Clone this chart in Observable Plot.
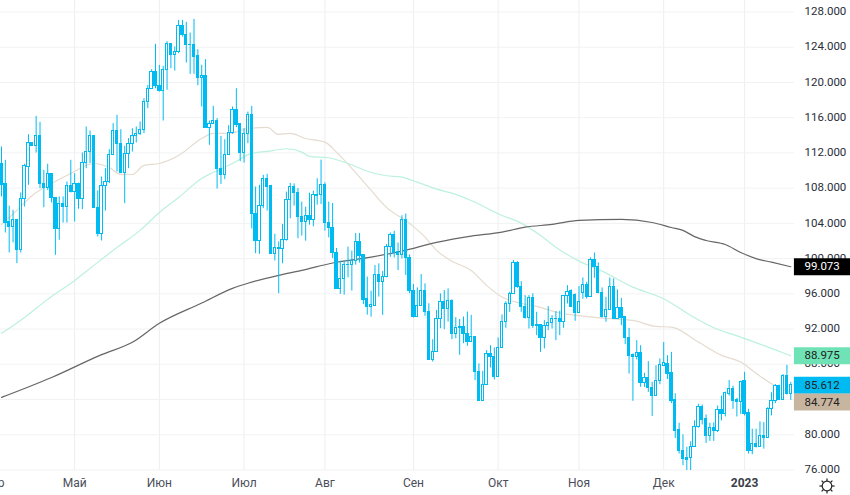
<!DOCTYPE html>
<html>
<head>
<meta charset="utf-8">
<script src="https://cdn.jsdelivr.net/npm/d3@7"></script>
<script src="https://cdn.jsdelivr.net/npm/@observablehq/plot@0.6"></script>
<style>
html,body{margin:0;padding:0;background:#fff;overflow:hidden}
#chart{position:relative;width:850px;height:495px}
#chart svg{display:block}
#chart svg#sun{position:absolute;left:818px;top:477px}
</style>
</head>
<body>
<div id="chart"></div>
<script>
const opens=[110.71,108.43,104.12,103.59,104.42,101.02,106.77,110.4,113.16,112.78,113.88,108.51,108.02,109.57,106.92,103.36,106.16,105.86,108.28,107.56,108.51,106.77,110.89,112.14,113.96,105.78,102.83,108.21,108.66,111.8,114.52,113.05,109.72,111.91,113.01,113.88,114.18,114.64,117.82,119.29,121.22,119.64,119.03,121.45,124.4,123.11,123.49,126.44,125.42,124.29,124.29,122.97,120.54,120.77,114.83,115.28,115.66,110.17,109.49,111.8,114.3,116.91,115.25,111.99,114.18,116.34,105.1,102.0,106.01,109.08,108.21,100.56,101.24,
101.09,102.06,106.6,108.11,107.47,104.75,104.18,104.78,104.41,107.17,107.17,108.3,104.06,103.5,100.66,96.57,97.63,99.22,99.22,99.71,101.83,100.4,95.36,
94.53,94.66,98.15,97.32,97.89,101.28,102.68,100.79,100.45,104.38,100.07,96.34,93.36,94.64,96.34,93.96,88.45,89.44,93.17,95.1,94.26,95.24,91.43,92.26,92.26,91.47,90.56,
91.13,87.12,83.79,85.64,89.17,88.79,86.52,89.85,92.8,94.85,95.99,99.55,96.82,94.55,93.22,95.53,92.39,92.46,90.95,92.35,92.69,93.14,93.14,92.77,95.8,96.36,
95.83,93.86,96.06,97.05,95.61,99.85,99.09,96.1,93.33,94.17,96.82,93.18,94.39,93.33,90.99,89.09,88.79,89.28,85.91,86.44,85.3,84.36,86.06,
87.81,88.08,86.99,83.9,80.56,78.19,77.4,77.36,78.56,80.85,83.15,81.76,79.81,80.74,80.44,82.77,82.4,84.65,85.14,83.9,83.75,86.08,82.47,78.11,78.94,78.56,79.84,79.65,82.96,83.86,85.48,83.98,86.64,84.65];
const closes=[108.32,104.05,103.59,104.42,100.94,106.81,110.48,113.16,112.78,113.88,108.51,108.02,109.57,106.88,103.36,106.16,105.86,108.28,107.56,108.51,106.77,110.89,112.14,113.96,105.78,102.83,108.21,108.66,111.8,114.52,113.01,109.72,111.91,113.01,113.88,114.18,114.64,117.82,119.29,121.22,119.6,119.03,121.45,124.4,123.11,123.49,126.44,125.42,124.25,124.22,122.89,120.54,120.77,114.83,115.28,115.62,110.17,109.49,111.8,114.3,116.91,115.13,111.99,114.18,116.34,105.1,102.0,106.01,109.08,108.13,100.49,101.24,101.09,
102.06,106.6,108.11,107.47,104.75,104.18,104.78,104.41,107.17,107.09,108.3,104.06,103.5,100.66,96.57,97.63,99.22,99.25,99.71,101.83,100.28,95.29,94.53,
94.68,98.15,97.32,97.89,101.28,102.68,100.64,100.45,104.38,100.04,96.3,93.36,94.64,96.34,93.93,88.45,89.44,93.17,95.1,94.26,95.17,91.43,92.15,92.07,91.43,90.56,91.13,
87.08,83.79,85.64,89.17,88.79,86.52,89.85,92.8,94.85,95.99,99.51,96.74,94.47,93.22,95.53,92.39,92.47,90.95,92.35,92.69,93.14,93.17,92.77,95.8,96.21,94.55,
93.86,95.04,97.01,95.61,99.85,99.02,96.06,93.33,94.17,96.82,93.18,94.39,93.22,90.95,88.98,88.79,89.28,85.91,86.44,85.27,84.36,86.06,87.92,
88.11,86.91,83.82,80.48,78.11,77.21,77.17,78.56,80.85,83.15,81.72,79.81,80.74,80.44,82.77,82.4,84.73,85.14,83.83,83.71,86.0,82.4,78.11,78.94,78.56,79.84,79.65,82.96,83.86,85.48,83.9,86.64,84.65,85.612];
const highs=[112.67,111.16,105.94,105.48,104.42,107.45,110.71,114.07,113.16,116.15,115.47,110.02,110.71,109.64,106.92,107.0,107.0,108.7,111.16,109.64,108.58,111.99,114.94,114.49,113.96,107.68,109.26,110.21,112.37,115.32,116.27,114.64,112.75,113.62,114.75,114.94,115.51,118.16,119.67,121.45,124.33,121.94,121.83,124.63,124.4,124.02,127.05,127.05,126.82,125.61,127.16,123.72,121.94,122.58,115.62,117.29,115.89,113.88,113.5,115.09,117.21,119.29,115.25,114.75,116.64,117.29,108.13,108.32,109.45,109.57,108.32,102.76,101.89,
103.88,107.55,108.53,108.49,107.96,106.41,105.84,107.43,107.66,109.06,111.18,108.61,106.41,106.26,101.15,99.71,99.71,101.3,100.85,102.85,102.85,100.4,97.9,
96.3,99.21,99.4,98.53,101.59,102.91,103.1,101.77,104.87,105.06,100.42,97.06,96.68,98.19,97.13,94.87,90.79,94.12,96.0,96.38,96.56,95.32,93.29,93.09,93.36,93.93,93.55,
91.13,88.03,87.2,89.55,90.11,89.85,90.99,93.6,95.11,96.17,99.77,99.66,97.39,95.8,95.8,95.99,93.9,92.5,92.96,94.55,93.52,93.98,94.02,95.8,96.93,96.44,
95.99,96.82,97.8,97.31,100.08,100.64,99.51,96.67,95.61,97.8,97.69,96.44,95.49,93.33,92.08,89.17,90.68,90.11,86.97,88.3,85.95,87.84,88.6,
90.48,88.98,89.35,84.65,81.31,79.99,78.56,79.2,81.57,83.45,83.37,82.25,81.31,81.34,83.26,84.39,84.84,86.15,85.52,84.13,86.08,87.09,82.89,80.63,80.63,81.46,81.38,83.07,84.77,85.7,85.63,86.83,87.88,85.93];
const lows=[107.0,102.91,100.64,101.78,99.43,100.64,105.86,108.32,112.78,111.99,107.94,105.78,107.75,106.31,100.37,102.08,104.04,104.04,107.45,104.16,105.6,105.56,110.21,110.78,105.78,102.45,102.0,105.4,108.51,111.72,109.83,109.64,106.24,110.21,112.1,113.12,113.99,114.18,117.02,119.29,119.29,118.91,115.62,119.11,121.56,121.3,123.27,125.16,122.21,120.92,120.92,119.63,117.21,114.79,112.86,115.25,107.9,108.43,108.96,111.72,114.11,114.87,111.01,110.85,113.05,103.36,100.56,100.49,105.67,105.4,100.49,99.73,96.02,
99.41,101.98,104.52,105.96,102.25,102.55,101.98,103.8,103.61,106.07,106.15,103.12,102.36,100.02,96.57,95.93,95.85,97.82,96.31,99.26,99.49,94.79,93.58,
93.36,94.6,95.63,93.55,97.81,100.15,100.07,98.64,99.96,98.08,96.0,93.25,93.36,94.64,93.44,88.45,88.26,89.4,92.04,91.93,92.79,90.79,90.91,89.02,90.34,90.04,90.53,
86.14,83.79,83.79,85.57,87.58,86.21,86.52,89.85,92.08,93.9,96.0,96.63,93.9,93.14,92.01,92.08,91.25,89.36,89.74,91.82,92.01,90.68,91.25,92.08,94.85,94.47,
92.88,93.83,95.38,95.42,95.61,97.77,95.99,93.26,92.77,94.17,93.14,93.14,92.39,90.23,86.89,83.79,88.49,85.38,85.38,84.81,82.08,84.36,85.68,
87.77,86.27,83.53,79.58,77.81,76.49,75.85,75.93,78.56,80.74,81.12,79.01,79.24,79.24,80.25,81.57,82.02,84.39,82.89,82.02,82.32,82.13,77.81,77.73,78.49,78.56,78.37,79.58,82.14,83.53,83.9,83.9,84.5,83.9];

const darkIdx=[0,13,26,34,41,52,60,64,72,78,86,96,104,113,122,130,136,143,150,161,169,174,177,180,183,188,192,196,200,205];
const darkVal=[84.24,86.5,89.1,90.5,92.65,94.95,96.62,97.2,98.1,98.66,99.5,100.17,100.85,101.84,102.55,103.0,103.57,103.88,104.33,104.45,104.1,103.53,103.2,102.5,102.06,101.6,100.7,100.0,99.6,99.073];
const greenIdx=[0,6,12,19,24,30,36,41,46,52,55,60,65,69,74,78,80,85,90,96,100,104,108,113,117,122,130,135,140,144,150,156,164,172,179,185,192,200,205];
const greenVal=[91.51,93.32,95.37,97.52,99.23,101.27,103.2,105.24,106.94,109.1,109.78,110.8,111.94,112.17,112.47,112.09,111.6,111.45,110.8,109.78,109.41,109.25,108.68,107.89,107.43,106.6,104.9,104.03,102.63,101.3,99.71,98.58,96.76,95.45,93.55,92.15,91.09,89.8,88.975];
const tanIdx=[0,4,8,13,18,24,28,31,34,37,41,46,52,55,59,64,69,72,75,79,84,87,91,96,100,106,110,113,117,122,126,130,135,140,144,151,157,164,170,174,181,187,192,196,200,205];
const tanVal=[103.88,105.47,107.17,108.53,109.67,110.8,110.35,109.55,109.55,110.58,110.8,111.71,113.64,114.21,114.21,114.78,114.89,114.1,114.21,113.64,113.22,112.09,110.24,107.74,105.81,104.0,102.44,100.93,99.71,98.66,96.96,95.63,94.91,94.46,93.92,93.47,93.21,92.98,92.3,92.22,90.52,89.01,88.25,86.97,85.8,84.774];

const yTicks=[76,80,84,88,92,96,100,104,108,112,116,120,124,128];
const monthTicks=[-2,19,41,63,84,107,129,150,172];
const monthLabels=["Апр","Май","Июн","Июл","Авг","Сен","Окт","Ноя","Дек"];
const yearTick=[193];
const yearLabel=["2023"];
const tagValues=[99.073,88.975,85.612,84.774];
const tagPositions=[99.073,88.975,85.612,83.73];
const tagFills=["#000000","#6fe3b5","#00bbf2","#c8b5a0"];
const tagInk=["#ffffff","#222222","#222222","#222222"];

const bars=d3.range(opens.length).map(i=>({i,o:opens[i],c:closes[i],h:highs[i],l:lows[i]}));
const toLine=(xs,ys)=>xs.map((x,k)=>({x,y:ys[k]}));
const tags=tagValues.map((v,k)=>({v,p:tagPositions[k],fill:tagFills[k],ink:tagInk[k]}));
const blue="#00bbf2";
const font='Roboto, "Open Sans", sans-serif';

const plot=Plot.plot({
  width:850,height:495,marginLeft:0,marginRight:56,marginTop:0,marginBottom:25,
  style:{fontFamily:font,background:"#fff",overflow:"hidden"},
  x:{type:"linear",domain:[-0.26,205.97],label:null},
  y:{type:"linear",domain:[75.94,129.305],label:null},
  marks:[
    Plot.gridX([...monthTicks,...yearTick],{stroke:"#eceef1",strokeOpacity:1}),
    Plot.gridY(yTicks,{stroke:"#f1f2f4",strokeOpacity:1}),
    Plot.lineY(toLine(tanIdx,tanVal),{x:"x",y:"y",stroke:"#e5dbcf",strokeWidth:1.2,curve:"monotone-x",clip:true}),
    Plot.lineY(toLine(greenIdx,greenVal),{x:"x",y:"y",stroke:"#bcf1dd",strokeWidth:1.2,curve:"monotone-x",clip:true}),
    Plot.lineY(toLine(darkIdx,darkVal),{x:"x",y:"y",stroke:"#666666",strokeWidth:1.2,curve:"monotone-x",clip:true}),
    Plot.ruleX(bars,{x:"i",y1:"l",y2:"h",stroke:blue,strokeWidth:1,clip:true}),
    Plot.rect(bars,{
      x1:d=>d.i-0.3,x2:d=>d.i+0.3,y1:"o",y2:"c",
      fill:d=>d.c>=d.o?"#ffffff":blue,stroke:blue,strokeWidth:1,
      shapeRendering:"crispEdges",clip:true
    }),
    Plot.axisY(yTicks,{anchor:"right",tickSize:0,tickPadding:0,textAnchor:"start",dx:10,dy:-0.5,
      tickFormat:d=>d.toFixed(3),fontSize:11.5,fill:"#2a2e39",label:null}),
    Plot.axisX(monthTicks,{anchor:"bottom",tickSize:0,tickPadding:8,
      tickFormat:d=>monthLabels[monthTicks.indexOf(d)],fontSize:12,fill:"#4a4e59",label:null}),
    Plot.axisX(yearTick,{anchor:"bottom",tickSize:0,tickPadding:8,
      tickFormat:d=>yearLabel[yearTick.indexOf(d)],fontSize:12,fontWeight:"bold",fill:"#3a3e49",label:null}),
    Plot.ruleY(tags,{y:"p",x1:()=>205.95,x2:()=>222,stroke:"fill",strokeWidth:17,clip:false}),
    Plot.text(tags,{y:"p",x:()=>208.55,text:d=>d.v.toFixed(3),textAnchor:"start",fill:"ink",fontSize:11.5,
      fontWeight:d=>d.fill==="#000000"?"bold":"normal",clip:false})
  ]
});
const host=document.getElementById("chart");
host.appendChild(plot);
// Settings icon in the corner of the price axis (interface decoration, not data).
const icon=d3.create("svg").attr("id","sun").attr("width",18).attr("height",18).attr("viewBox","-9 -9 18 18");
icon.append("circle").attr("r",4.8).attr("fill","none").attr("stroke","#222").attr("stroke-width",1.2);
d3.range(8).forEach(k=>icon.append("line").attr("y1",-5).attr("y2",-7.6).attr("stroke","#222").attr("stroke-width",1.2).attr("transform",`rotate(${k*45})`));
host.appendChild(icon.node());
</script>
</body>
</html>
